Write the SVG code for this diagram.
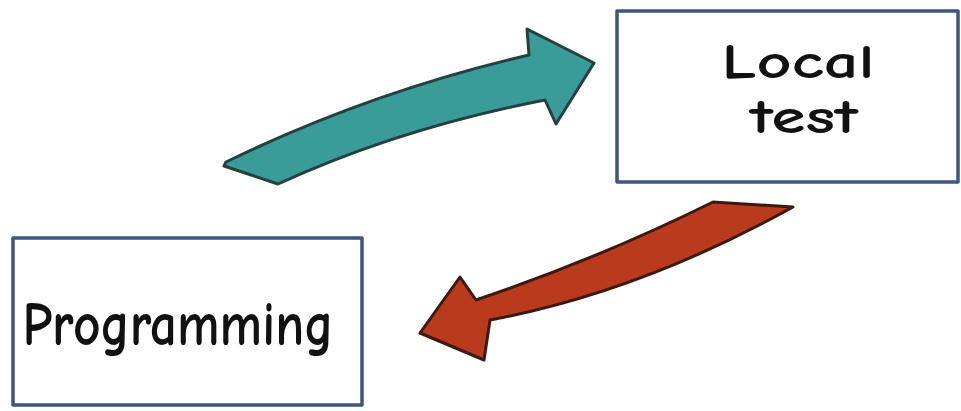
<svg xmlns="http://www.w3.org/2000/svg" width="961" height="411" viewBox="0 0 961 411">
<style>
.box{fill:#fff;stroke:#3d5680;stroke-width:3.5;stroke-linejoin:round}
.lbl{font-family:"Comic Neue","Liberation Sans",sans-serif;fill:#111;font-weight:bold}
.teal{fill:#3a9c99;stroke:#24403f;stroke-width:3;stroke-linejoin:round}
.red{fill:#b93a1c;stroke:#3c1a10;stroke-width:3;stroke-linejoin:round}
</style>
<rect width="961" height="411" fill="#fff"/>
<g id="connectors">
<path class="teal" d="M224,166 L226,162 Q370,92 529,55 L527,29 L594,63 L556,124 L545,100 Q400,128 278,184 L272,182 Z"/>
<path class="red" d="M713,202 L793,207 Q640,292 490,320 L484,360 L420,333 L460,277 L476,300 Q600,258 713,202 Z"/>
</g>
<g id="local-test">
<rect class="box" x="617" y="11" width="341" height="171"/>
<text class="lbl" x="798" y="78" font-size="48" text-anchor="middle" textLength="153" lengthAdjust="spacingAndGlyphs">Local</text>
<text class="lbl" x="804" y="133" font-size="48" text-anchor="middle" textLength="108" lengthAdjust="spacingAndGlyphs">test</text>
</g>
<g id="programming">
<rect class="box" x="13" y="238" width="349" height="167"/>
<text class="lbl" x="178" y="345" font-size="62" text-anchor="middle" textLength="311" lengthAdjust="spacingAndGlyphs">Programming</text>
</g>
</svg>
